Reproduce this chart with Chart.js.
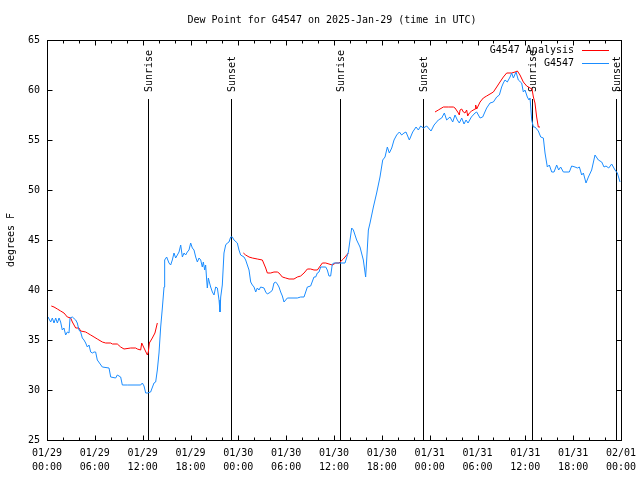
<!DOCTYPE html>
<html>
<head>
<meta charset="utf-8">
<title>Dew Point for G4547</title>
<script src="https://cdn.jsdelivr.net/npm/chart.js@4.4.1/dist/chart.umd.min.js"></script>
<style>
  html, body { margin: 0; padding: 0; background: #fff; }
  canvas { display: block; }
</style>
</head>
<body>
<canvas id="dewChart" width="640" height="480"></canvas>
<script>
// texts
const chartTitle = 'Dew Point for G4547 on 2025-Jan-29 (time in UTC)';
const yAxisTitle = 'degrees F';
const obsLabel = 'G4547';
const anaLabel = 'G4547 Analysis';

// x axis: hours since 01/29 00:00 UTC, labels every 6 hours
const xTickDates = ['01/29', '01/29', '01/29', '01/29', '01/30', '01/30', '01/30', '01/30', '01/31', '01/31', '01/31', '01/31', '02/01'];
const xTickTimes = ['00:00', '06:00', '12:00', '18:00', '00:00', '06:00', '12:00', '18:00', '00:00', '06:00', '12:00', '18:00', '00:00'];

// sunrise / sunset markers (hours)
const eventHours = [12.71, 23.08, 36.79, 47.21, 60.88, 71.34];
const eventLabels = ['Sunrise', 'Sunset', 'Sunrise', 'Sunset', 'Sunrise', 'Sunset'];

// station observations
const obsHours = [
  0.13, 0.46, 0.67, 0.88, 1.09, 1.30, 1.51, 1.71, 1.92, 2.13, 2.34, 2.55, 2.76, 2.89, 3.18, 3.60, 3.80, 4.01, 4.22, 4.43,
  4.64, 4.85, 5.06, 5.27, 5.48, 5.69, 5.90, 6.10, 6.31, 6.94, 7.78, 7.99, 8.61, 8.82, 9.24, 9.45, 10.08, 11.75, 11.96, 12.17,
  12.38, 12.59, 13.00, 13.42, 13.63, 13.84, 14.05, 14.26, 14.47, 14.68, 14.76, 15.01, 15.30, 15.51, 15.72, 15.93, 16.14, 16.35, 16.56, 16.77,
  16.98, 17.19, 17.39, 17.60, 17.81, 18.02, 18.23, 18.44, 18.65, 18.86, 19.07, 19.28, 19.48, 19.61, 19.78, 19.90, 20.03, 20.11, 20.24, 20.36,
  20.53, 20.74, 20.95, 21.16, 21.37, 21.58, 21.70, 21.79, 21.99, 22.20, 22.41, 22.62, 22.83, 23.04, 23.25, 23.46, 23.87, 24.08, 24.29, 24.71,
  24.92, 25.13, 25.34, 25.55, 25.76, 25.97, 26.18, 26.38, 26.59, 26.80, 27.22, 27.43, 27.64, 28.06, 28.27, 28.47, 28.68, 28.89, 29.10, 29.31,
  29.52, 29.73, 30.15, 31.40, 31.82, 32.24, 32.66, 33.07, 33.49, 33.70, 33.91, 34.12, 34.33, 34.96, 35.16, 35.37, 35.58, 35.79, 36.00, 37.38,
  37.80, 38.22, 38.43, 38.84, 39.26, 39.68, 39.97, 40.10, 40.31, 40.52, 40.94, 41.35, 41.77, 42.11, 42.40, 42.69, 42.94, 43.24, 43.53, 43.86,
  44.20, 44.49, 44.78, 45.03, 45.45, 45.87, 46.29, 46.58, 46.87, 47.21, 47.63, 48.17, 48.55, 49.09, 49.51, 49.84, 50.13, 50.55, 50.89, 51.18,
  51.47, 51.72, 52.02, 52.31, 52.56, 52.81, 53.23, 53.69, 53.90, 54.32, 54.65, 55.15, 55.57, 55.99, 56.41, 56.74, 57.03, 57.24, 57.45, 57.74,
  58.08, 58.29, 58.50, 58.83, 59.12, 59.54, 59.75, 59.96, 60.25, 60.46, 60.59, 60.80, 61.01, 61.21, 61.63, 61.93, 62.26, 62.47, 62.76, 63.01,
  63.31, 63.60, 63.93, 64.18, 64.43, 64.77, 65.52, 65.81, 66.23, 66.53, 66.78, 67.07, 67.28, 67.61, 67.91, 68.32, 68.74, 69.16, 69.58, 69.87,
  70.12, 70.46, 70.83, 71.25, 71.54, 71.88
];
const obsDewpt = [
  37.3, 36.8, 37.2, 36.7, 37.2, 36.7, 37.2, 36.8, 36.0, 36.2, 35.5, 35.8, 35.7, 37.2, 37.3, 37.0, 36.7, 36.0, 35.8, 35.2,
  35.0, 34.7, 34.3, 34.5, 33.8, 33.7, 33.8, 33.8, 33.0, 32.3, 32.2, 31.3, 31.2, 31.5, 31.3, 30.5, 30.5, 30.5, 30.7, 30.4,
  29.7, 29.7, 29.8, 30.7, 30.8, 32.0, 33.7, 36.3, 38.2, 40.3, 43.0, 43.3, 42.7, 42.5, 43.0, 43.7, 43.2, 43.5, 43.8, 44.5,
  43.3, 43.7, 43.5, 43.8, 44.0, 44.7, 44.2, 44.0, 43.3, 42.8, 43.2, 43.0, 42.3, 42.8, 42.0, 42.5, 41.0, 40.2, 41.2, 40.8,
  40.3, 39.8, 39.5, 40.3, 40.2, 39.0, 37.8, 39.3, 40.5, 43.7, 44.5, 44.7, 44.8, 45.3, 45.3, 45.0, 44.7, 44.0, 43.5, 43.3,
  43.0, 42.5, 42.0, 40.8, 40.5, 40.3, 39.8, 40.2, 40.0, 40.3, 40.2, 39.8, 39.6, 39.8, 40.0, 40.7, 40.8, 40.6, 40.3, 39.8,
  39.4, 38.8, 39.2, 39.2, 39.3, 39.3, 40.3, 40.4, 41.3, 41.3, 41.7, 41.8, 42.3, 42.3, 42.0, 41.4, 41.4, 42.6, 42.7, 42.7,
  43.8, 46.2, 46.0, 45.0, 44.3, 43.0, 41.3, 43.0, 46.0, 46.7, 48.3, 49.7, 51.3, 53.0, 53.3, 54.3, 53.7, 54.2, 55.0, 55.5,
  55.8, 55.5, 55.7, 55.8, 55.0, 55.8, 56.3, 56.0, 56.4, 56.2, 56.4, 55.9, 56.5, 57.0, 57.2, 57.7, 57.0, 57.3, 56.8, 57.5,
  57.0, 56.7, 57.2, 56.6, 57.0, 56.7, 57.3, 57.7, 57.8, 57.2, 57.3, 58.2, 58.7, 58.8, 59.3, 59.5, 60.3, 60.7, 61.0, 60.8,
  61.3, 61.7, 61.2, 61.8, 61.0, 60.7, 59.8, 60.0, 59.3, 59.0, 59.2, 57.0, 56.3, 56.3, 55.9, 55.3, 55.2, 53.7, 52.3, 52.5,
  51.8, 51.8, 52.5, 52.0, 52.3, 51.8, 51.8, 52.4, 52.3, 52.2, 52.3, 51.5, 51.7, 50.7, 51.3, 52.0, 53.5, 53.0, 52.8, 52.3,
  52.4, 52.2, 52.6, 52.0, 51.7, 50.8
];

// analysis (null = no analysis)
const anaHours = [
  0.54, 0.88, 1.30, 1.71, 2.13, 2.55, 2.97, 3.18, 3.60, 4.01, 4.22, 4.85, 5.06, 5.48, 5.90, 6.31, 6.94, 7.36, 7.99, 8.20,
  8.82, 9.24, 9.66, 10.50, 11.12, 11.33, 11.75, 11.88, 12.17, 12.59, 12.71, 12.84, 13.21, 13.54, 13.84, 19.00,
  24.63, 24.92, 25.34, 25.76, 26.38, 27.01, 27.43, 27.64, 28.06, 28.47, 28.89, 29.10, 29.52, 29.94, 30.36, 30.98, 31.40, 31.82, 32.24, 32.66,
  33.07, 33.49, 33.91, 34.54, 34.96, 35.37, 35.79, 36.21, 36.63, 37.17, 37.80, 43.00,
  48.67, 49.09, 49.72, 50.34, 50.97, 51.18, 51.60, 51.72, 51.81, 52.02, 52.23, 52.43, 52.64, 52.77, 52.98, 53.27, 53.69, 53.77, 53.90, 54.32,
  54.73, 55.15, 55.99, 56.41, 56.82, 57.24, 57.66, 58.29, 58.71, 59.00, 59.33, 59.75, 60.17, 60.59, 60.84, 61.01, 61.21, 61.42, 61.63, 61.84
];
const anaDewpt = [
  38.4, 38.3, 38.1, 37.9, 37.7, 37.3, 37.2, 36.8, 36.2, 36.2, 35.9, 35.8, 35.7, 35.5, 35.3, 35.1, 34.8, 34.7, 34.7, 34.6,
  34.6, 34.3, 34.1, 34.2, 34.2, 34.1, 34.0, 34.7, 34.2, 33.5, 33.8, 34.7, 35.2, 35.7, 36.7, null,
  43.7, 43.5, 43.3, 43.2, 43.1, 43.0, 42.2, 41.7, 41.7, 41.8, 41.8, 41.7, 41.3, 41.2, 41.1, 41.1, 41.3, 41.4, 41.7, 42.1,
  42.1, 42.0, 42.0, 42.7, 42.7, 42.6, 42.5, 42.7, 42.7, 43.1, 43.7, null,
  57.8, 58.0, 58.3, 58.3, 58.3, 58.2, 57.7, 57.5, 58.0, 58.1, 57.8, 57.7, 58.0, 57.4, 57.7, 57.9, 58.1, 58.5, 58.1, 58.8,
  59.2, 59.4, 59.8, 60.3, 60.8, 61.3, 61.7, 61.7, 61.8, 61.9, 61.5, 60.8, 60.4, 60.2, 60.1, 59.3, 58.7, 57.3, 56.3, 56.3
];

const FONT = '"DejaVu Sans Mono", "Liberation Mono", monospace';
Chart.defaults.font.family = FONT;
Chart.defaults.font.size = 10;
Chart.defaults.color = '#000';

const obsColor = '#1a8cff';
const anaColor = '#ff0000';

// gnuplot style frame, inward ticks, sun markers, legend and title
const gnuplotBits = {
    id: 'gnuplotBits',
    beforeDatasetsDraw(chart) {
        const { ctx, chartArea: a, scales: { x } } = chart;
        ctx.save();
        ctx.strokeStyle = '#000';
        ctx.lineWidth = 1;
        ctx.fillStyle = '#000';
        ctx.font = '10px ' + FONT;
        eventHours.forEach((h, i) => {
            const px = Math.round(x.getPixelForValue(h)) + 0.5;
            ctx.beginPath();
            ctx.moveTo(px, a.top + 59);
            ctx.lineTo(px, a.bottom);
            ctx.stroke();
            ctx.save();
            ctx.translate(px + 1, a.top + 52);
            ctx.rotate(-Math.PI / 2);
            ctx.textAlign = 'left';
            ctx.textBaseline = 'middle';
            ctx.fillText(eventLabels[i], 0, 0);
            ctx.restore();
        });
        ctx.restore();
    },
    afterDraw(chart) {
        const { ctx, chartArea: a, scales: { x, y } } = chart;
        ctx.save();
        ctx.strokeStyle = '#000';
        ctx.lineWidth = 1;
        const L = Math.round(a.left) + 0.5, R = Math.round(a.right) + 0.5;
        const T = Math.round(a.top) + 0.5, B = Math.round(a.bottom) + 0.5;
        ctx.strokeRect(L, T, R - L, B - T);

        ctx.beginPath();
        for (let h = 0; h <= 72; h += 2) {
            const px = Math.round(x.getPixelForValue(h)) + 0.5;
            const len = h % 6 === 0 ? 5 : 3;
            ctx.moveTo(px, B); ctx.lineTo(px, B - len);
            ctx.moveTo(px, T); ctx.lineTo(px, T + len);
        }
        for (let v = y.min; v <= y.max; v += 5) {
            const py = Math.round(y.getPixelForValue(v)) + 0.5;
            ctx.moveTo(L, py); ctx.lineTo(L + 5, py);
            ctx.moveTo(R, py); ctx.lineTo(R - 5, py);
        }
        ctx.stroke();

        // legend
        ctx.font = '10px ' + FONT;
        ctx.fillStyle = '#000';
        ctx.textAlign = 'right';
        ctx.textBaseline = 'middle';
        [[anaLabel, anaColor], [obsLabel, obsColor]].forEach(([txt, col], i) => {
            const ly = a.top + 10 + i * 13;
            ctx.fillText(txt, a.right - 47, ly);
            ctx.strokeStyle = col;
            ctx.beginPath();
            ctx.moveTo(a.right - 39, Math.round(ly) + 0.5);
            ctx.lineTo(a.right - 12, Math.round(ly) + 0.5);
            ctx.stroke();
        });

        // title
        ctx.textAlign = 'center';
        ctx.fillText(chartTitle, (a.left + a.right) / 2 - 2, 20);
        ctx.restore();
    }
};

const toPoints = (xs, ys) => xs.map((h, i) => ({ x: h, y: ys[i] }));

new Chart(document.getElementById('dewChart'), {
    type: 'line',
    data: {
        datasets: [
            {
                label: obsLabel,
                data: toPoints(obsHours, obsDewpt),
                borderColor: obsColor,
                borderWidth: 1,
                pointRadius: 0,
                tension: 0
            },
            {
                label: anaLabel,
                data: toPoints(anaHours, anaDewpt),
                borderColor: anaColor,
                borderWidth: 1,
                pointRadius: 0,
                tension: 0,
                spanGaps: false
            }
        ]
    },
    options: {
        responsive: false,
        animation: false,
        events: [],
        layout: { padding: { top: 40, right: 19, left: 0, bottom: 0 } },
        plugins: {
            legend: { display: false },
            title: { display: false },
            tooltip: { enabled: false }
        },
        scales: {
            x: {
                type: 'linear',
                min: 0,
                max: 72,
                grid: { display: false, drawTicks: false },
                border: { display: false },
                ticks: {
                    stepSize: 6,
                    autoSkip: false,
                    maxRotation: 0,
                    padding: 7,
                    font: { size: 10, lineHeight: 1.35 },
                    callback: (v) => {
                        const i = Math.round(v / 6);
                        return [xTickDates[i], xTickTimes[i]];
                    }
                },
                afterFit: (s) => {
                    s.height = 40;
                    s.paddingLeft = 0;
                    s.paddingRight = 0;
                }
            },
            y: {
                min: 25,
                max: 65,
                grid: { display: false, drawTicks: false },
                border: { display: false },
                ticks: { stepSize: 5, padding: 7 },
                title: {
                    display: true,
                    text: yAxisTitle,
                    padding: { top: 5, bottom: 0 },
                    font: { size: 10 }
                },
                afterFit: (s) => {
                    s.width = 47;
                    s.paddingTop = 0;
                    s.paddingBottom = 0;
                }
            }
        }
    },
    plugins: [gnuplotBits]
});
</script>
</body>
</html>
